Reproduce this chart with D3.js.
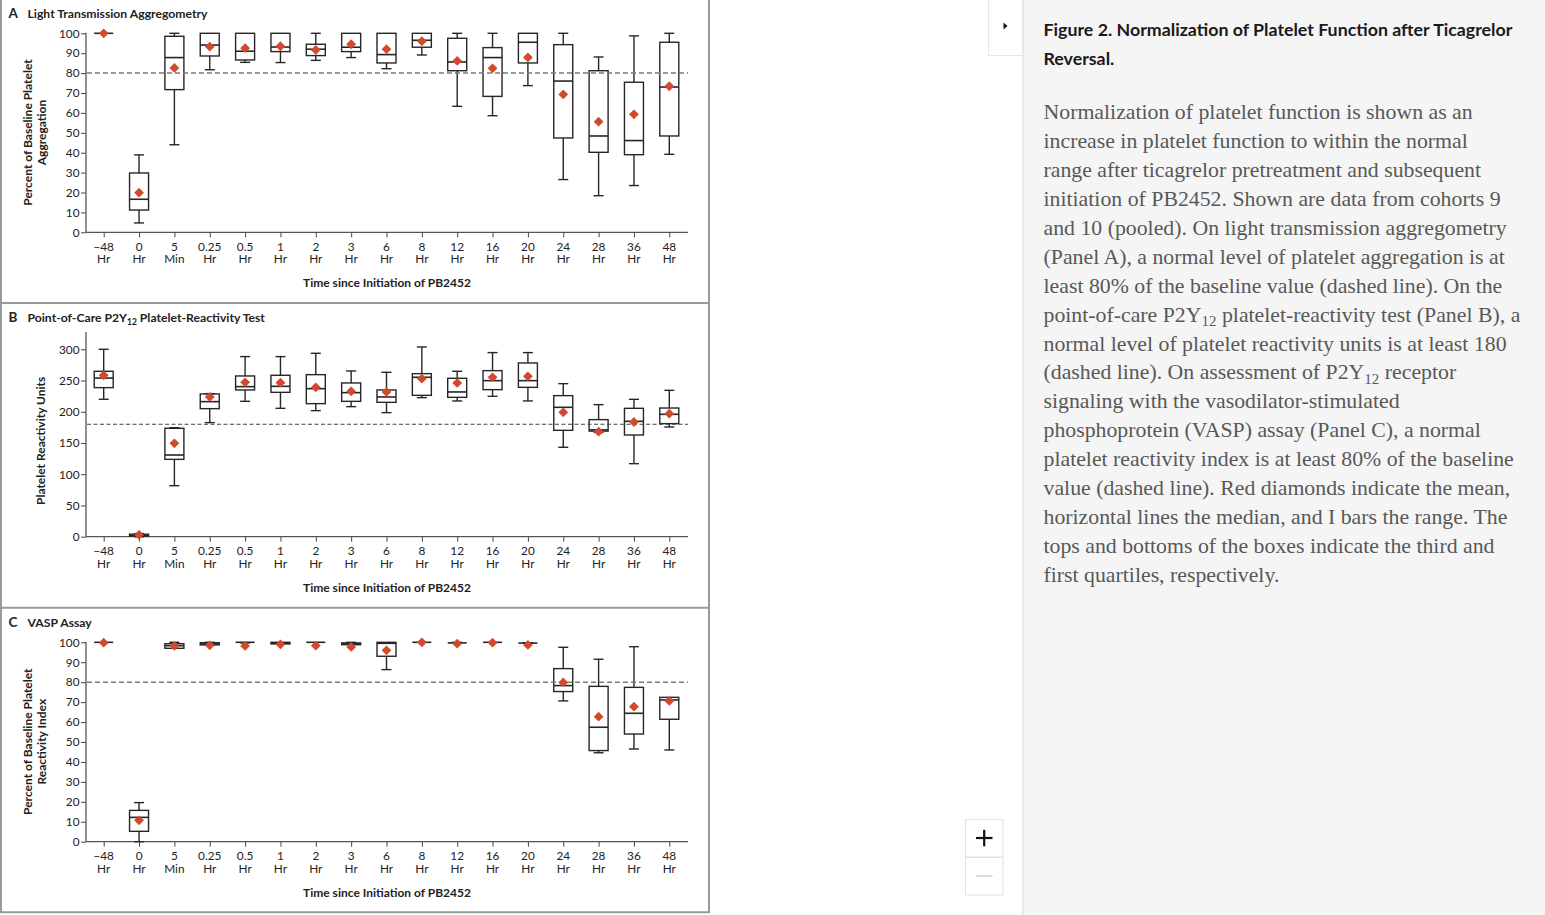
<!DOCTYPE html>
<html><head><meta charset="utf-8">
<script src="https://cdn.jsdelivr.net/npm/d3@7"></script>
<style>body{margin:0;background:#fff;overflow:hidden} svg{display:block}</style>
</head><body><svg id="c" width="1545" height="915"></svg>
<script>
// ---------- DATA ----------
const categories = ["-48 Hr","0 Hr","5 Min","0.25 Hr","0.5 Hr","1 Hr","2 Hr","3 Hr","6 Hr","8 Hr","12 Hr","16 Hr","20 Hr","24 Hr","28 Hr","36 Hr","48 Hr"];
const tickTop = ["\u221248","0","5","0.25","0.5","1","2","3","6","8","12","16","20","24","28","36","48"];
const tickBottom = ["Hr","Hr","Min","Hr","Hr","Hr","Hr","Hr","Hr","Hr","Hr","Hr","Hr","Hr","Hr","Hr","Hr"];

// Panel A: Light transmission aggregometry (% of baseline)
const ltaMin  = [100, 4.7, 44.0, 81.7, 85.4, 85.3, 86.4, 87.8, 82.2, 89.1, 63.3, 58.6, 73.7, 26.5, 18.4, 23.5, 39.2];
const ltaQ1   = [100, 11.2, 71.7, 88.6, 86.6, 90.8, 88.8, 90.8, 85.1, 93.0, 81.2, 68.3, 85.1, 47.4, 40.2, 39.0, 48.4];
const ltaMed  = [100, 16.6, 87.8, 94.1, 91.0, 93.1, 92.0, 93.0, 89.3, 96.5, 85.6, 87.8, 95.5, 76.0, 48.4, 46.1, 73.0];
const ltaQ3   = [100, 29.8, 98.5, 100, 100, 100, 94.5, 100, 100, 100, 97.5, 92.8, 100, 94.3, 81.2, 75.4, 95.5];
const ltaMax  = [100, 38.9, 100, 100, 100, 100, 100, 100, 100, 100, 100, 100, 100, 100, 88.1, 98.7, 100];
const ltaMean = [100, 19.9, 82.6, 93.3, 92.5, 93.5, 91.6, 94.5, 92.0, 96.0, 86.1, 82.4, 87.9, 69.3, 55.6, 59.3, 73.4];

// Panel B: Point-of-care P2Y12 platelet-reactivity units
const pruMin  = [220.0, 0, 81.7, 182.6, 216.7, 205.5, 201.8, 208.2, 198.6, 222.6, 217.3, 224.7, 217.3, 143.1, 167.0, 116.9, 175.6];
const pruQ1   = [238.6, 1, 123.8, 205.0, 234.9, 231.1, 213.0, 216.7, 215.1, 226.3, 223.1, 235.4, 239.1, 170.3, 169.0, 162.8, 181.0];
const pruMed  = [254.0, 2, 130.8, 216.2, 240.2, 240.7, 237.0, 230.6, 223.7, 255.2, 231.7, 249.8, 249.8, 207.1, 171.0, 184.7, 195.9];
const pruQ3   = [264.8, 4, 173.5, 228.5, 257.3, 258.4, 259.4, 246.1, 234.9, 261.0, 253.6, 265.8, 278.1, 225.8, 187.4, 205.5, 206.0];
const pruMax  = [300.0, 5, 174.5, 229.0, 288.3, 288.3, 293.6, 265.3, 263.2, 303.7, 264.8, 294.7, 294.7, 245.0, 211.4, 219.9, 234.3];
const pruMean = [258.4, 3, 149.5, 223.7, 247.2, 246.6, 239.1, 232.7, 231.7, 253.0, 246.1, 255.2, 256.8, 199.1, 168.1, 183.6, 197.0];

// Panel C: VASP assay (% of baseline platelet reactivity index)
const vaspMin  = [100, 0, 97.0, 98.5, 99.7, 99.2, 99.8, 98.8, 86.3, 100, 99.5, 100, 99.5, 70.6, 44.6, 46.5, 46.0];
const vaspQ1   = [100, 5.2, 97.0, 98.7, 99.8, 99.2, 99.8, 98.8, 93.0, 100, 99.5, 100, 99.5, 75.3, 45.7, 54.0, 61.4];
const vaspMed  = [100, 12.2, 98.3, 99.2, 100, 99.5, 100, 99.2, 99.5, 100, 99.7, 100, 99.6, 78.3, 57.4, 64.4, 71.1];
const vaspQ3   = [100, 15.7, 99.3, 99.8, 100, 100, 100, 99.7, 100, 100, 99.8, 100, 99.7, 86.8, 77.9, 77.4, 72.4];
const vaspMax  = [100, 19.6, 100, 100, 100, 100, 100, 100, 100, 100, 100, 100, 99.8, 97.5, 91.5, 97.8, 72.4];
const vaspMean = [99.8, 10.7, 98.2, 98.5, 98.2, 99.0, 98.3, 97.7, 96.0, 100, 99.3, 99.8, 98.7, 79.9, 62.7, 67.7, 70.6];

const ltaTicks = [0,10,20,30,40,50,60,70,80,90,100];
const pruTicks = [0,50,100,150,200,250,300];
const vaspTicks = [0,10,20,30,40,50,60,70,80,90,100];

const captionTitle = ["Figure 2. Normalization of Platelet Function after Ticagrelor", "Reversal."];
const captionLines = [
  "Normalization of platelet function is shown as an",
  "increase in platelet function to within the normal",
  "range after ticagrelor pretreatment and subsequent",
  "initiation of PB2452. Shown are data from cohorts 9",
  "and 10 (pooled). On light transmission aggregometry",
  "(Panel A), a normal level of platelet aggregation is at",
  "least 80% of the baseline value (dashed line). On the",
  "point-of-care P2Y_12 platelet-reactivity test (Panel B), a",
  "normal level of platelet reactivity units is at least 180",
  "(dashed line). On assessment of P2Y_12 receptor",
  "signaling with the vasodilator-stimulated",
  "phosphoprotein (VASP) assay (Panel C), a normal",
  "platelet reactivity index is at least 80% of the baseline",
  "value (dashed line). Red diamonds indicate the mean,",
  "horizontal lines the median, and I bars the range. The",
  "tops and bottoms of the boxes indicate the third and",
  "first quartiles, respectively."
];

// ---------- LAYOUT ----------
const svg = d3.select("#c");
const FONT = "Lato, 'Open Sans', sans-serif";
const INK = "#222";
const RED = "#d14a2e";

svg.append("rect").attr("width",1545).attr("height",915).attr("fill","#fff");

const panels = [
  {letter:"A", title:[["Light Transmission Aggregometry",false]], yTitle:["Percent of Baseline Platelet","Aggregation"],
   oy:0, yMax:100, yTopPx:33.3, ticks:ltaTicks, ref:80, dash:"5,3", dashColor:"#7a7a7a", dashW:1.5,
   d:{min:ltaMin,q1:ltaQ1,med:ltaMed,q3:ltaQ3,max:ltaMax,mean:ltaMean}, yTitleCy:132.5},
  {letter:"B", title:[["Point-of-Care P2Y",false],["12",true],[" Platelet-Reactivity Test",false]], yTitle:["Platelet Reactivity Units"],
   oy:304.4, yMax:327, yTopPx:232.3-327*0.6247, ticks:pruTicks, ref:180, dash:"4,2.5", dashColor:"#444", dashW:1,
   d:{min:pruMin,q1:pruQ1,med:pruMed,q3:pruQ3,max:pruMax,mean:pruMean}, yTitleCy:136.4},
  {letter:"C", title:[["VASP Assay",false]], yTitle:["Percent of Baseline Platelet","Reactivity Index"],
   oy:609.4, yMax:100, yTopPx:32.9, ticks:vaspTicks, ref:80, dash:"5,3", dashColor:"#7a7a7a", dashW:1.5,
   d:{min:vaspMin,q1:vaspQ1,med:vaspMed,q3:vaspQ3,max:vaspMax,mean:vaspMean}, yTitleCy:132.3}
];

const AX_L = 86, AX_R = 688, AX_B = 232.3;
const x = d3.scalePoint().domain(categories).range([103.7, 669.3]);

// figure frame
const frame = svg.append("g").attr("stroke","#9a9a9a").attr("stroke-width",2).attr("fill","none");
frame.append("line").attr("x1",1).attr("x2",1).attr("y1",0).attr("y2",913);
frame.append("line").attr("x1",709).attr("x2",709).attr("y1",0).attr("y2",913);
frame.append("line").attr("x1",0).attr("x2",710).attr("y1",303).attr("y2",303);
frame.append("line").attr("x1",0).attr("x2",710).attr("y1",607.8).attr("y2",607.8);
frame.append("line").attr("x1",0).attr("x2",710).attr("y1",912.3).attr("y2",912.3);

panels.forEach(p => {
  const g = svg.append("g").attr("transform",`translate(0,${p.oy})`);
  const y = d3.scaleLinear().domain([0,p.yMax]).range([AX_B, p.yTopPx]);

  // panel title
  g.append("text").attr("x",8.5).attr("y",18).attr("font-family",FONT).attr("font-weight",700)
    .attr("font-size",13.5).attr("fill",INK).text(p.letter);
  const tt = g.append("text").attr("x",27.5).attr("y",18).attr("font-family",FONT).attr("font-weight",700)
    .attr("font-size",12.2).attr("fill",INK);
  p.title.forEach(([s,sub]) => {
    const ts = tt.append("tspan").text(s);
    if (sub) ts.attr("font-size",8.5).attr("dy",3);
    else if (tt.selectAll("tspan").size()>1) ts.attr("dy",-3);
  });

  // y axis title
  const yt = g.append("g").attr("font-family",FONT).attr("font-weight",700).attr("font-size",12).attr("fill",INK);
  const bx = p.yTitle.length===2 ? [31.7,45.5] : [45];
  p.yTitle.forEach((s,i) => {
    yt.append("text").attr("transform",`translate(${bx[i]},${p.yTitleCy}) rotate(-90)`)
      .attr("text-anchor","middle").text(s);
  });

  // y axis
  const yAxis = d3.axisLeft(y).tickValues(p.ticks).tickSize(5).tickPadding(1.5).tickFormat(d3.format("d"));
  const ya = g.append("g").attr("transform",`translate(${AX_L},0)`).call(yAxis);
  ya.select(".domain").remove();
  ya.selectAll(".tick line").attr("stroke","#444").attr("stroke-width",1);
  ya.selectAll(".tick text").attr("font-family",FONT).attr("font-size",11.8).attr("fill",INK);
  g.append("line").attr("x1",AX_L).attr("x2",AX_L).attr("y1",p.yTopPx-0.5).attr("y2",AX_B)
    .attr("stroke","#555").attr("stroke-width",1.3);

  // x axis
  const xAxis = d3.axisBottom(x).tickSize(5).tickFormat("");
  const xa = g.append("g").attr("transform",`translate(0,${AX_B})`).call(xAxis);
  xa.select(".domain").remove();
  xa.selectAll(".tick line").attr("stroke","#444").attr("stroke-width",1);
  g.append("line").attr("x1",AX_L).attr("x2",AX_R).attr("y1",AX_B).attr("y2",AX_B)
    .attr("stroke","#555").attr("stroke-width",1.3);
  const xl = g.append("g").attr("font-family",FONT).attr("font-size",11.8).attr("fill",INK).attr("text-anchor","middle");
  categories.forEach((c,i) => {
    xl.append("text").attr("x",x(c)).attr("y",AX_B+18.4).text(tickTop[i]);
    xl.append("text").attr("x",x(c)).attr("y",AX_B+31).text(tickBottom[i]);
  });
  g.append("text").attr("x",(AX_L+AX_R)/2).attr("y",287.3).attr("text-anchor","middle")
    .attr("font-family",FONT).attr("font-weight",700).attr("font-size",12).attr("fill",INK)
    .text("Time since Initiation of PB2452");

  // boxes
  const BW = 19, CW = 10;
  const bg = g.append("g").attr("stroke","#262626").attr("stroke-width",1.4).attr("fill","none");
  categories.forEach((c,i) => {
    const cx = x(c);
    const mn=p.d.min[i], q1=p.d.q1[i], md=p.d.med[i], q3=p.d.q3[i], mx=p.d.max[i];
    if (mx>q3) {
      bg.append("line").attr("x1",cx).attr("x2",cx).attr("y1",y(mx)).attr("y2",y(q3));
      bg.append("line").attr("x1",cx-CW/2).attr("x2",cx+CW/2).attr("y1",y(mx)).attr("y2",y(mx));
    }
    if (mn<q1) {
      bg.append("line").attr("x1",cx).attr("x2",cx).attr("y1",y(q1)).attr("y2",y(mn));
      bg.append("line").attr("x1",cx-CW/2).attr("x2",cx+CW/2).attr("y1",y(mn)).attr("y2",y(mn));
    }
    const h = Math.max(0, y(q1)-y(q3));
    if (h>0.8) bg.append("rect").attr("x",cx-BW/2).attr("y",y(q3)).attr("width",BW).attr("height",h);
    bg.append("line").attr("x1",cx-BW/2).attr("x2",cx+BW/2).attr("y1",y(md)).attr("y2",y(md))
      .attr("stroke-width",1.6);
  });

  // reference dashed line
  g.append("line").attr("x1",AX_L+1).attr("x2",AX_R).attr("y1",y(p.ref)).attr("y2",y(p.ref))
    .attr("stroke",p.dashColor).attr("stroke-width",p.dashW).attr("stroke-dasharray",p.dash);

  // means
  const sym = d3.symbol().type(d3.symbolSquare).size(48);
  g.append("g").selectAll("path").data(categories).join("path")
    .attr("d",sym()).attr("fill",RED)
    .attr("transform",(c,i)=>`translate(${x(c)},${y(p.d.mean[i])}) rotate(45)`);
});

// ---------- RIGHT SIDE ----------
svg.append("rect").attr("x",1023).attr("y",0).attr("width",522).attr("height",915).attr("fill","#f5f5f5");
svg.append("line").attr("x1",1023).attr("x2",1023).attr("y1",0).attr("y2",915).attr("stroke","#e4e4e4").attr("stroke-width",1.5);
svg.append("rect").attr("x",988.5).attr("y",-1).attr("width",34).attr("height",56.5).attr("fill","#fff")
  .attr("stroke","#e6e6e6").attr("stroke-width",1);
svg.append("path").attr("d","M1003.5,22.5 L1007.5,26 L1003.5,29.5 Z").attr("fill","#111");

// zoom buttons
svg.append("rect").attr("x",965.5).attr("y",819.5).attr("width",37.5).attr("height",37.5).attr("fill","#fff").attr("stroke","#e2e2e2");
svg.append("rect").attr("x",965.5).attr("y",857.5).attr("width",37.5).attr("height",37.5).attr("fill","#fff").attr("stroke","#e2e2e2");
svg.append("line").attr("x1",976).attr("x2",992.5).attr("y1",838).attr("y2",838).attr("stroke","#111").attr("stroke-width",2.2);
svg.append("line").attr("x1",984.2).attr("x2",984.2).attr("y1",829.8).attr("y2",846.3).attr("stroke","#111").attr("stroke-width",2.2);
svg.append("line").attr("x1",976).attr("x2",992.5).attr("y1",876).attr("y2",876).attr("stroke","#dcdcdc").attr("stroke-width",2);

// caption
const cap = svg.append("g");
captionTitle.forEach((s,i) => {
  cap.append("text").attr("x",1043.5).attr("y",36+i*28.5).attr("font-family",FONT).attr("font-weight",700)
    .attr("font-size",17.8).attr("fill","#1a1a1a").text(s);
});
captionLines.forEach((s,i) => {
  const t = cap.append("text").attr("x",1043.5).attr("y",119+i*28.94)
    .attr("font-family","'Liberation Serif', 'DejaVu Serif', serif").attr("font-size",21.8).attr("fill","#585858");
  const parts = s.split(/_(\d+)/);
  parts.forEach((part,k) => {
    if (k%2===1) t.append("tspan").attr("font-size",15).attr("dy",4.8).text(part);
    else {
      const ts = t.append("tspan").text(part);
      if (k>0) ts.attr("dy",-4.8);
    }
  });
});
</script></body></html>
